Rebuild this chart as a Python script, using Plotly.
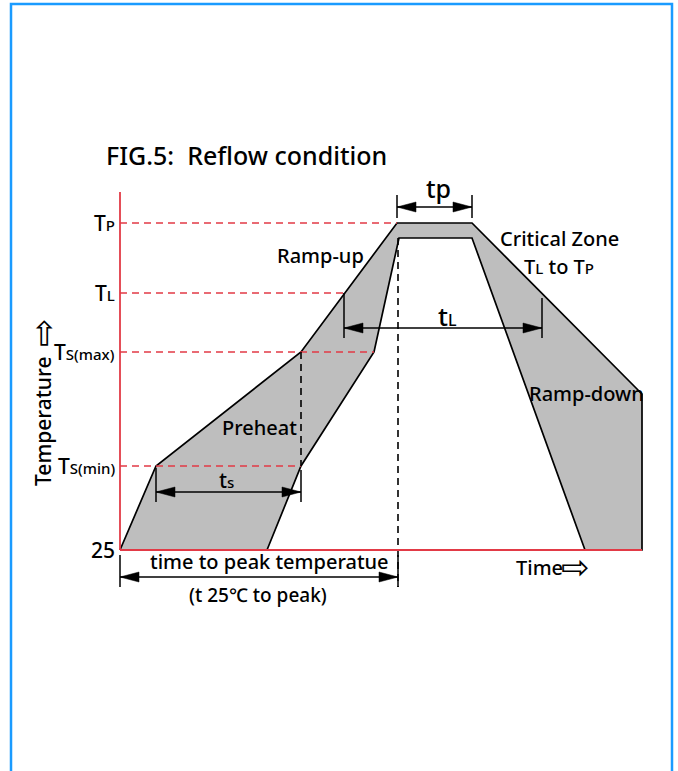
import plotly.graph_objects as go

# ---------------- data (schematic units) ----------------
# upper (hottest) and lower (coolest) reflow profile boundaries
upper_time = [0, 36, 181, 277, 352, 522, 522]
upper_temp = [0, 84, 198, 327, 327, 156, 0]
lower_time = [0, 147, 181, 254, 279, 352, 465]
lower_temp = [0, 0, 84, 198, 312, 312, 0]

# temperature levels on the vertical axis
level_main = ["T", "T", "T", "T", "25"]
level_sub = ["P", "L", "S(max)", "S(min)", ""]
level_temp = [327, 257, 198, 84, 0]
level_guide_end = [277, 224, 254, 181, None]

axis_time_end = 522
axis_temp_top = 358

# dimension arrows (tp, tL, ts, time to peak)
dim_t0 = [277, 224, 36, 0]
dim_t1 = [352, 422, 181, 278]
dim_y = [343, 222, 58, -27]
dim_tick_top0 = [355, 257, 82, -5]
dim_tick_top1 = [355, 252, 80, -5]
dim_tick_bot = [332, 212, 48, -37]

# vertical dashed guides
vguide_t = [181, 278]
vguide_top = [198, 312]
vguide_bot = [84, -37]

# region labels
region_text = ["Ramp-up", "Preheat", "Critical Zone", "Ramp-down"]
region_t = [200, 139, 439, 466]
region_y = [295, 123, 312, 157]

# ---------------- styles ----------------
FONT = "Noto Sans, Open Sans, sans-serif"
RED = "#E23A46"
GRAY = "#BEBEBE"
BLACK = "#000000"
BLUE = "#1A9BFF"

fig = go.Figure()

# filled profile band
band_t = upper_time + lower_time[::-1]
band_y = upper_temp + lower_temp[::-1]
fig.add_trace(go.Scatter(x=band_t, y=band_y, mode="lines", fill="toself",
                         fillcolor=GRAY, line=dict(color=BLACK, width=1.7),
                         hoverinfo="skip"))

# red dashed level guides
for yv, te in zip(level_temp, level_guide_end):
    if te is None:
        continue
    fig.add_trace(go.Scatter(x=[0, te], y=[yv, yv], mode="lines",
                             line=dict(color=RED, width=1.6, dash="7px,5px"),
                             hoverinfo="skip"))

# black dashed vertical guides
for tv, y0, y1 in zip(vguide_t, vguide_top, vguide_bot):
    fig.add_trace(go.Scatter(x=[tv, tv], y=[y0, y1], mode="lines",
                             line=dict(color=BLACK, width=1.6, dash="7px,5px"),
                             hoverinfo="skip"))

# dimension arrows
AL, AH = 19, 5
for t0, t1, yv, k0, k1, kb in zip(dim_t0, dim_t1, dim_y, dim_tick_top0,
                                    dim_tick_top1, dim_tick_bot):
    fig.add_trace(go.Scatter(x=[t0, t1], y=[yv, yv], mode="lines",
                             line=dict(color=BLACK, width=1.5), hoverinfo="skip"))
    fig.add_trace(go.Scatter(x=[t0, t0], y=[k0, kb], mode="lines",
                             line=dict(color=BLACK, width=1.5), hoverinfo="skip"))
    fig.add_trace(go.Scatter(x=[t1, t1], y=[k1, kb], mode="lines",
                             line=dict(color=BLACK, width=1.5), hoverinfo="skip"))
    for tip, d in ((t0, 1), (t1, -1)):
        fig.add_trace(go.Scatter(x=[tip, tip + d * AL, tip + d * AL, tip],
                                 y=[yv, yv + AH, yv - AH, yv], mode="lines",
                                 fill="toself", fillcolor=BLACK,
                                 line=dict(color=BLACK, width=0.5),
                                 hoverinfo="skip"))

# red axes
fig.add_trace(go.Scatter(x=[0, 0], y=[axis_temp_top, 0], mode="lines",
                         line=dict(color=RED, width=1.8), hoverinfo="skip"))
fig.add_trace(go.Scatter(x=[0, axis_time_end], y=[0, 0], mode="lines",
                         line=dict(color=RED, width=1.8), hoverinfo="skip"))

ann = []
def txt(x, y, s, size=20, xanchor="center", angle=0, family=FONT, weight=500):
    ann.append(dict(x=x, y=y, text=s, showarrow=False, xanchor=xanchor,
                    yanchor="middle", textangle=angle,
                    font=dict(family=family, size=size, color=BLACK,
                              weight=weight)))

# level labels
for m, s, yv in zip(level_main, level_sub, level_temp):
    label = m + (f"<span style='font-size:15px'>{s}</span>" if s else "")
    txt(-3, yv, label, size=21, xanchor="right")

# region labels
for s, tv, yv in zip(region_text, region_t, region_y):
    txt(tv, yv, s, size=20)
txt(439, 284, "T<span style='font-size:15px'>L</span> to T<span style='font-size:15px'>P</span>", size=20)

# dimension labels
txt(318, 362, "tp", size=25)
txt(327, 234, "t<span style='font-size:16px'>L</span>", size=26)
txt(106, 70, "t<span style='font-size:15px'>s</span>", size=21)
txt(149, -11, "time to peak temperatue", size=20)
txt(138, -45, "(t 25℃ to peak)", size=19)

# axis titles
txt(419, -17, "Time", size=20)
txt(455, -17, "⇨", size=34, family="DejaVu Sans", weight=400)
txt(-77, 129, "Temperature", size=21, angle=-90)
txt(-77, 217, "⇨", size=34, angle=-90, family="DejaVu Sans", weight=400)

# title
txt(-16, 395, "FIG.5:  Reflow condition", size=25, xanchor="left")

fig.update_layout(
    width=678, height=771, autosize=False,
    margin=dict(l=0, r=0, t=0, b=0),
    paper_bgcolor="white", plot_bgcolor="white",
    showlegend=False,
    xaxis=dict(range=[-120, 558], visible=False, fixedrange=True),
    yaxis=dict(range=[-221, 550], visible=False, fixedrange=True),
    annotations=ann,
    shapes=[dict(type="rect", xref="x", yref="y", x0=-109, x1=552, y0=546, y1=-300,
                 line=dict(color=BLUE, width=2.5), fillcolor="rgba(0,0,0,0)",
                 layer="above")],
)

fig.write_html("out.html", post_script="document.body.style.margin='0px';",
               config={"displayModeBar": False})
